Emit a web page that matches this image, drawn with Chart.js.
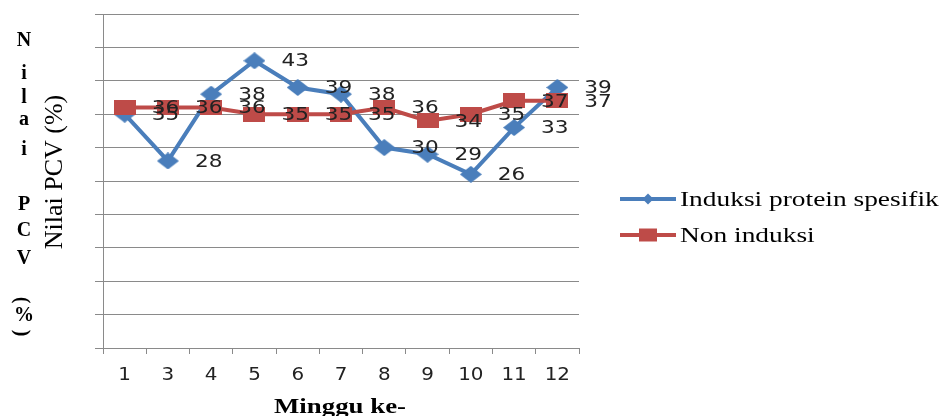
<!DOCTYPE html>
<html>
<head>
<meta charset="utf-8">
<script src="https://cdn.jsdelivr.net/npm/chart.js@4.4.1/dist/chart.umd.min.js"></script>
<style>
  html, body { margin: 0; padding: 0; background: #ffffff; }
  #wrap { width: 944px; height: 416px; position: relative; }
</style>
</head>
<body>
<div id="wrap"><canvas id="c" width="944" height="416"></canvas></div>
<script>
// Weekly PCV values (%) for the two treatment groups
const weeks = ['1', '3', '4', '5', '6', '7', '8', '9', '10', '11', '12'];
const induksi = [35, 28, 38, 43, 39, 38, 30, 29, 26, 33, 39];
const nonInduksi = [36, 36, 36, 35, 35, 35, 36, 34, 35, 37, 37];
const seriesNames = ['Induksi protein spesifik', 'Non induksi'];
const yMin = 0, yMax = 50, yStep = 5;

const BLUE = '#4A7EBB';
const RED = '#BE4B48';
const GRID = '#8a8a8a';

// Marker images: diamond for the first series, flat square for the second
function markerCanvas(shape, w, h, color) {
  const c = document.createElement('canvas');
  c.width = w; c.height = h;
  const g = c.getContext('2d');
  g.fillStyle = color;
  g.beginPath();
  if (shape === 'diamond') {
    g.moveTo(w / 2, 0); g.lineTo(w, h / 2); g.lineTo(w / 2, h); g.lineTo(0, h / 2);
    g.closePath();
  } else {
    g.rect(0, 0, w, h);
  }
  g.fill();
  return c;
}
const diamond = markerCanvas('diamond', 22, 17, BLUE);
const square = markerCanvas('square', 22, 15, RED);

function stretchText(ctx, text, x, y, sx, align) {
  ctx.save();
  ctx.translate(x, y);
  ctx.scale(sx, 1);
  ctx.textAlign = align;
  ctx.fillText(text, 0, 0);
  ctx.restore();
}

// Value labels to the right of each point, x tick labels, titles and legend
const decorations = {
  id: 'decorations',
  afterDatasetsDraw(chart) {
    const ctx = chart.ctx;
    ctx.save();
    ctx.fillStyle = '#222';
    ctx.font = '18px "DejaVu Sans"';
    ctx.textBaseline = 'middle';
    chart.data.datasets.forEach((ds, di) => {
      const meta = chart.getDatasetMeta(di);
      meta.data.forEach((el, i) => {
        stretchText(ctx, String(ds.data[i]), el.x + 27, el.y + 1, 1.2, 'left');
      });
    });
    ctx.restore();
  },
  afterDraw(chart) {
    const ctx = chart.ctx;
    const xs = chart.scales.x;
    ctx.save();
    ctx.fillStyle = '#222';

    // category labels
    ctx.font = '17px "DejaVu Sans"';
    ctx.textBaseline = 'middle';
    weeks.forEach((w, i) => {
      stretchText(ctx, w, xs.getPixelForValue(i), 376, 1.17, 'center');
    });

    ctx.fillStyle = '#000';
    // x axis title
    ctx.font = 'bold 22px "Liberation Serif"';
    ctx.textBaseline = 'alphabetic';
    stretchText(ctx, 'Minggu ke-', 340, 413, 1.22, 'center');

    // rotated y axis title
    ctx.save();
    ctx.translate(55, 172);
    ctx.rotate(-Math.PI / 2);
    ctx.font = '26px "Liberation Serif"';
    ctx.textAlign = 'center';
    ctx.textBaseline = 'middle';
    ctx.fillText('Nilai PCV (%)', 0, 0);
    ctx.restore();

    // stacked y axis title
    ctx.font = 'bold 20px "Liberation Serif"';
    ctx.textAlign = 'center';
    ctx.textBaseline = 'alphabetic';
    const stacked = [['N', 46], ['i', 79], ['l', 103], ['a', 125], ['i', 155],
                     ['P', 210], ['C', 236], ['V', 264], ['%', 321]];
    stacked.forEach(([ch, y]) => ctx.fillText(ch, 24, y));
    [['(', 300], [')', 333]].forEach(([ch, y]) => {
      ctx.save();
      ctx.translate(21, y);
      ctx.rotate(Math.PI / 2);
      ctx.textBaseline = 'middle';
      ctx.fillText(ch, 0, 0);
      ctx.restore();
    });

    // legend
    const items = [
      { name: seriesNames[0], color: BLUE, y: 199, shape: 'diamond', w: 11, h: 11 },
      { name: seriesNames[1], color: RED, y: 235, shape: 'square', w: 18, h: 13 }
    ];
    items.forEach(it => {
      ctx.strokeStyle = it.color;
      ctx.lineWidth = 4;
      ctx.beginPath();
      ctx.moveTo(620, it.y);
      ctx.lineTo(676, it.y);
      ctx.stroke();
      ctx.fillStyle = it.color;
      ctx.beginPath();
      if (it.shape === 'diamond') {
        ctx.moveTo(648, it.y - it.h / 2); ctx.lineTo(648 + it.w / 2, it.y);
        ctx.lineTo(648, it.y + it.h / 2); ctx.lineTo(648 - it.w / 2, it.y);
        ctx.closePath();
      } else {
        ctx.rect(648 - it.w / 2, it.y - it.h / 2, it.w, it.h);
      }
      ctx.fill();
      ctx.fillStyle = '#000';
      ctx.font = '20px "Liberation Serif"';
      ctx.textBaseline = 'alphabetic';
      stretchText(ctx, it.name, 680, it.y + 7, 1.37, 'left');
    });
    ctx.restore();
  }
};

new Chart(document.getElementById('c'), {
  type: 'line',
  data: {
    labels: weeks,
    datasets: [
      {
        label: seriesNames[0],
        data: induksi,
        borderColor: BLUE,
        backgroundColor: BLUE,
        borderWidth: 4,
        pointStyle: diamond,
        tension: 0,
        order: 1
      },
      {
        label: seriesNames[1],
        data: nonInduksi,
        borderColor: RED,
        backgroundColor: RED,
        borderWidth: 4,
        pointStyle: square,
        tension: 0,
        order: 0
      }
    ]
  },
  options: {
    responsive: false,
    devicePixelRatio: 1,
    animation: false,
    layout: { padding: { left: 95, right: 365, top: 14, bottom: 0 } },
    plugins: { legend: { display: false }, tooltip: { enabled: false } },
    scales: {
      x: {
        type: 'category',
        offset: true,
        grid: { offset: true, drawOnChartArea: false, drawTicks: true, tickLength: 6, color: GRID, lineWidth: 1 },
        border: { color: GRID, width: 1 },
        ticks: { display: false },
        afterFit(s) { s.height = 68; }
      },
      y: {
        min: yMin,
        max: yMax,
        ticks: { display: false, stepSize: yStep },
        grid: { drawTicks: true, tickLength: 8, color: GRID, lineWidth: 1 },
        border: { color: GRID, width: 1 },
        afterFit(s) { s.width = 8; }
      }
    }
  },
  plugins: [decorations]
});
</script>
</body>
</html>
